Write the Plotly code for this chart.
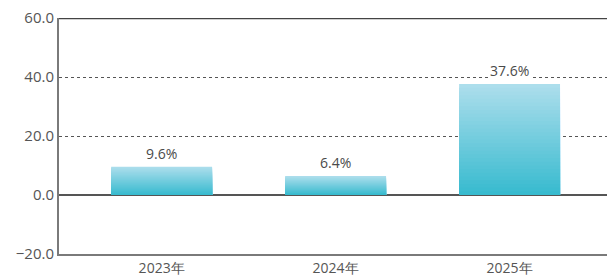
import plotly.graph_objects as go

categories = ["2023年", "2024年", "2025年"]
values = [9.6, 6.4, 37.6]
labels = ["9.6%", "6.4%", "37.6%"]
y_ticks = [-20, 0, 20, 40, 60]

fig = go.Figure()

# gradient bars simulated by overlaying progressively shorter bars
N = 30
top = (172, 222, 236)
bottom = (52, 186, 206)
for k in range(N, 0, -1):
    f = k / N
    c = tuple(int(bottom[i] + (top[i] - bottom[i]) * f) for i in range(3))
    fig.add_trace(go.Bar(
        x=categories, y=[v * f for v in values],
        marker=dict(color="rgb(%d,%d,%d)" % c, line=dict(width=0)),
        width=0.58, hoverinfo="skip", showlegend=False,
    ))

annotations = [
    dict(x=c, y=v, text=t, xref="x", yref="y", showarrow=False,
         yanchor="bottom", yshift=2, bgcolor="white", borderpad=1,
         font=dict(family="Open Sans", size=14, color="#4a4a4a"))
    for c, v, t in zip(categories, values, labels)
]

fig.update_layout(
    barmode="overlay",
    width=607, height=279,
    margin=dict(l=59, r=0, t=18, b=25),
    paper_bgcolor="white", plot_bgcolor="white",
    font=dict(family="Open Sans", color="#555"),
    xaxis=dict(
        range=[-0.59, 2.56], showgrid=False, zeroline=False, automargin=False,
        showline=True, linecolor="#7a7a7a", linewidth=2,
        tickfont=dict(size=14, color="#555"), ticks="", ticklabelstandoff=0,
    ),
    yaxis=dict(
        range=[-20, 60], tickvals=y_ticks, tickformat=".1f", automargin=False,
        showgrid=True, gridcolor="#555", griddash="dot", gridwidth=1,
        zeroline=True, zerolinecolor="#555", zerolinewidth=2,
        showline=True, linecolor="#7a7a7a", linewidth=2,
        tickfont=dict(size=15, color="#555"), ticks="", ticklabelstandoff=0,
    ),
    shapes=[dict(type="line", xref="paper", yref="y", x0=0, x1=1, y0=60, y1=60,
                 line=dict(color="#444", width=2.5))],
    annotations=annotations,
)

fig.write_html("out.html", config={"displayModeBar": False},
               post_script="document.body.style.margin='0';document.body.style.overflow='hidden';")
